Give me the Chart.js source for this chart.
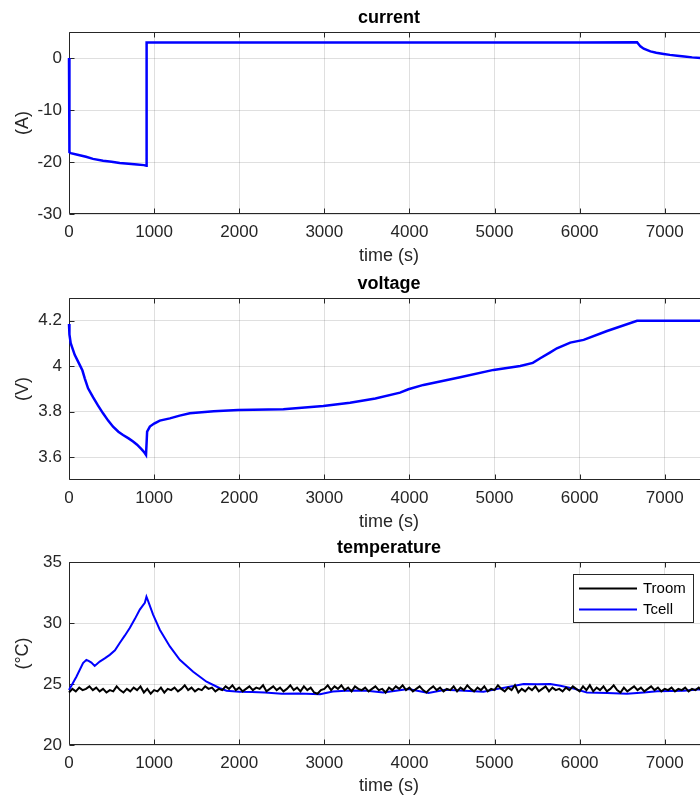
<!DOCTYPE html>
<html><head><meta charset="utf-8">
<script src="https://cdn.jsdelivr.net/npm/chart.js@4.4.0/dist/chart.umd.min.js"></script>
<style>
html,body{margin:0;padding:0;background:#fff;overflow:hidden;width:700px;height:796px}
#wrap{position:relative;width:700px;height:796px;overflow:hidden;background:#fff}
canvas{position:absolute;left:0}
</style></head><body>
<div id="wrap">
<canvas id="c1" width="709" height="265" style="top:0px"></canvas>
<canvas id="c2" width="709" height="265" style="top:266px"></canvas>
<canvas id="c3" width="709" height="266" style="top:530px"></canvas>
</div>
<script>
// ---- tick labels ----
const timeTicks = [0, 1000, 2000, 3000, 4000, 5000, 6000, 7000];
const currentTicks = [-30, -20, -10, 0];
const voltageTicks = [3.6, 3.8, 4, 4.2];
const tempTicks = [20, 25, 30, 35];

// ---- current (A) ----
const currentTime = [0, 5, 20, 100, 200, 282, 400, 500, 596, 700, 800, 880, 910, 912, 1000, 2000, 3000, 4000, 5000, 6000, 6675, 6714, 6753, 6832, 6900, 6988, 7060, 7146, 7230, 7322, 7420, 7520];
const currentA    = [0, -18.1, -18.3, -18.6, -19.0, -19.4, -19.75, -19.95, -20.2, -20.35, -20.5, -20.6, -20.7, 3.0, 3.0, 3.0, 3.0, 3.0, 3.0, 3.0, 3.05, 2.23, 1.79, 1.27, 1.0, 0.77, 0.6, 0.44, 0.3, 0.12, 0.02, 0.0];

// ---- voltage (V) ----
const voltageTime = [0, 5, 20, 67, 126, 158, 185, 224, 282, 340, 400, 460, 518, 580, 635, 700, 753, 800, 851, 880, 905, 912, 918, 950, 1000, 1067, 1185, 1300, 1420, 1700, 1988, 2518, 2988, 3302, 3600, 3890, 3988, 4165, 4596, 4988, 5302, 5450, 5537, 5650, 5733, 5890, 6047, 6322, 6675, 7000, 7420, 7520];
const voltageV    = [4.186, 4.14, 4.101, 4.05, 4.006, 3.981, 3.947, 3.903, 3.864, 3.828, 3.793, 3.761, 3.734, 3.712, 3.698, 3.683, 3.669, 3.655, 3.636, 3.624, 3.61, 3.61, 3.713, 3.735, 3.748, 3.761, 3.771, 3.783, 3.793, 3.802, 3.808, 3.811, 3.825, 3.84, 3.858, 3.884, 3.899, 3.918, 3.952, 3.984, 4.001, 4.015, 4.035, 4.06, 4.079, 4.104, 4.116, 4.155, 4.2, 4.2, 4.2, 4.196];

// ---- temperature (°C) ----
const tcellTime = [0, 8, 87, 165, 204, 230, 263, 302, 361, 420, 479, 540, 596, 655, 714, 773, 832, 891, 910, 930, 988, 1067, 1185, 1302, 1459, 1616, 1773, 1851, 2000, 2150, 2300, 2500, 2700, 2950, 3100, 3302, 3500, 3694, 3988, 4224, 4420, 4650, 4871, 5067, 5224, 5341, 5500, 5655, 5773, 5930, 6086, 6322, 6557, 6753, 6910, 7224, 7420, 7520];
const tcellC    = [24.5, 24.5, 25.6, 26.71, 26.98, 26.9, 26.76, 26.48, 26.84, 27.1, 27.39, 27.76, 28.36, 28.96, 29.59, 30.32, 31.1, 31.65, 32.15, 31.79, 30.69, 29.45, 28.08, 26.98, 26.01, 25.19, 24.65, 24.45, 24.36, 24.35, 24.3, 24.2, 24.22, 24.17, 24.38, 24.47, 24.45, 24.31, 24.59, 24.26, 24.53, 24.45, 24.37, 24.64, 24.83, 25.0, 24.98, 25.0, 24.86, 24.62, 24.31, 24.26, 24.2, 24.31, 24.4, 24.45, 24.56, 24.55];

const troomStep = 40; // s between room temperature samples
const troomC = [
 24.3, 24.6, 24.4, 24.7, 24.5, 24.6, 24.8, 24.5, 24.7, 24.4,
 24.6, 24.3, 24.5, 24.4, 24.8, 24.5, 24.3, 24.6, 24.4, 24.7,
 24.5, 24.8, 24.3, 24.6, 24.2, 24.5, 24.4, 24.7, 24.3, 24.6,
 24.5, 24.7, 24.4, 24.6, 24.9, 24.5, 24.7, 24.4, 24.6, 24.5,
 24.8, 24.6, 24.7, 24.4, 24.6, 24.5, 24.8, 24.6, 24.9, 24.5,
 24.7, 24.4, 24.6, 24.8, 24.5, 24.7, 24.6, 24.9, 24.4, 24.6,
 24.8, 24.5, 24.7, 24.4, 24.6, 24.9, 24.5, 24.7, 24.4, 24.8,
 24.5, 24.7, 24.3, 24.2, 24.5, 24.6, 24.9, 24.5, 24.8, 24.6,
 24.9, 24.5, 24.7, 24.4, 24.8, 24.6, 24.5, 24.7, 24.4, 24.6,
 24.8, 24.5, 24.6, 24.3, 24.7, 24.5, 24.8, 24.6, 24.9, 24.5,
 24.7, 24.4, 24.6, 24.8, 24.5, 24.3, 24.6, 24.8, 24.5, 24.7,
 24.4, 24.6, 24.5, 24.8, 24.4, 24.7, 24.5, 24.9, 24.6, 24.4,
 24.7, 24.5, 24.8, 24.4, 24.6, 24.5, 24.9, 24.6, 24.4, 24.7,
 24.5, 24.9, 24.3, 24.6, 24.4, 24.7, 24.5, 24.8, 24.4, 24.6,
 24.8, 24.4, 24.7, 24.5, 24.6, 24.4, 24.7, 24.5, 24.8, 24.6,
 24.4, 24.8, 24.5, 24.9, 24.4, 24.7, 24.5, 24.8, 24.4, 24.6,
 24.9, 24.5, 24.3, 24.7, 24.4, 24.6, 24.8, 24.5, 24.7, 24.4,
 24.6, 24.8, 24.5, 24.7, 24.4, 24.6, 24.5, 24.7, 24.4, 24.6,
 24.5, 24.7, 24.4, 24.6, 24.5, 24.7, 24.4, 24.6, 24.5];

const X_MAX = 7520;
const AX = '#262626';
const GRID = 'rgba(38,38,38,0.15)';
const FONT = '"Liberation Sans", Arial, Helvetica, sans-serif';

function pts(xs, ys) { return xs.map((x, i) => ({x: x, y: ys[i]})); }

function matlab(title, xlabel, ylabel, xticks, yticks, legend) {
  return {
    id: 'matlab',
    beforeDatasetsDraw(chart) {
      const {ctx, chartArea: a, scales} = chart;
      const L = Math.round(a.left) + 0.5, R = Math.round(a.right) - 0.5;
      const T = Math.round(a.top) + 0.5, B = Math.round(a.bottom) - 0.5;
      ctx.save();
      ctx.strokeStyle = AX; ctx.lineWidth = 1;
      ctx.beginPath();
      ctx.moveTo(L, T); ctx.lineTo(R, T); ctx.lineTo(R, B); ctx.lineTo(L, B); ctx.closePath();
      xticks.forEach(v => {
        const p = Math.round(scales.x.getPixelForValue(v)) + 0.5;
        ctx.moveTo(p, B); ctx.lineTo(p, B - 5);
        ctx.moveTo(p, T); ctx.lineTo(p, T + 5);
      });
      yticks.forEach(v => {
        const p = Math.round(scales.y.getPixelForValue(v)) + 0.5;
        ctx.moveTo(L, p); ctx.lineTo(L + 5, p);
        ctx.moveTo(R, p); ctx.lineTo(R - 5, p);
      });
      ctx.stroke();
      ctx.restore();
    },
    afterDraw(chart) {
      const {ctx, chartArea: a} = chart;
      const cx = (a.left + a.right) / 2, cy = (a.top + a.bottom) / 2;
      ctx.save();
      ctx.textAlign = 'center'; ctx.textBaseline = 'middle';
      ctx.fillStyle = '#000';
      ctx.font = 'bold 18px ' + FONT;
      ctx.fillText(title, cx, 18);
      ctx.fillStyle = AX;
      ctx.font = '18px ' + FONT;
      ctx.fillText(xlabel, cx, 256);
      ctx.translate(23, cy); ctx.rotate(-Math.PI / 2);
      ctx.fillText(ylabel, 0, 0);
      ctx.restore();
      if (legend) {
        const ds = chart.data.datasets;
        ctx.save();
        const lx = 573.5, ly = 44.5, lw = 120, lh = 48;
        ctx.fillStyle = '#fff';
        ctx.fillRect(lx, ly, lw, lh);
        ctx.strokeStyle = AX; ctx.lineWidth = 1;
        ctx.strokeRect(lx, ly, lw, lh);
        ds.forEach((d, i) => {
          const yy = ly + 14 + i * 21;
          ctx.strokeStyle = d.borderColor; ctx.lineWidth = 2;
          ctx.beginPath(); ctx.moveTo(579, yy); ctx.lineTo(637, yy); ctx.stroke();
          ctx.fillStyle = '#000';
          ctx.font = '15px ' + FONT;
          ctx.textAlign = 'left'; ctx.textBaseline = 'middle';
          ctx.fillText(d.label, 643, yy);
        });
        ctx.restore();
      }
    }
  };
}

function makeChart(id, datasets, ymin, ymax, yticks, title, ylabel, legend) {
  return new Chart(document.getElementById(id), {
    type: 'line',
    data: {datasets: datasets},
    options: {
      responsive: false, animation: false, devicePixelRatio: 1,
      layout: {padding: {top: 32, left: 0, right: 0, bottom: 0}},
      plugins: {legend: {display: false}, tooltip: {enabled: false}, title: {display: false}},
      elements: {point: {radius: 0}, line: {borderWidth: 2.5, tension: 0}},
      scales: {
        x: {
          type: 'linear', min: 0, max: X_MAX,
          afterBuildTicks: s => { s.ticks = timeTicks.map(v => ({value: v})); },
          afterFit: s => { s.height = 51; },
          border: {display: false},
          grid: {color: GRID, lineWidth: 1, drawTicks: false},
          ticks: {color: AX, font: {family: FONT, size: 17}, padding: 8, maxRotation: 0, autoSkip: false, callback: v => String(v)}
        },
        y: {
          type: 'linear', min: ymin, max: ymax,
          afterBuildTicks: s => { s.ticks = yticks.map(v => ({value: v})); },
          afterFit: s => { s.width = 69; },
          border: {display: false},
          grid: {color: GRID, lineWidth: 1, drawTicks: false},
          ticks: {color: AX, font: {family: FONT, size: 17}, padding: 7, autoSkip: false, callback: v => String(v)}
        }
      }
    },
    plugins: [matlab(title, 'time (s)', ylabel, timeTicks, yticks, legend)]
  });
}

makeChart('c1', [
  {label: 'current', data: pts(currentTime, currentA), borderColor: '#0000ff', clip: false}
], -30, 5, currentTicks, 'current', '(A)', false);

makeChart('c2', [
  {label: 'voltage', data: pts(voltageTime, voltageV), borderColor: '#0000ff', clip: false}
], 3.5, 4.3, voltageTicks, 'voltage', '(V)', false);

const troomTime = troomC.map((_, i) => i * troomStep);
makeChart('c3', [
  {label: 'Troom', data: pts(troomTime, troomC), borderColor: '#000000', borderWidth: 2, clip: false},
  {label: 'Tcell', data: pts(tcellTime, tcellC), borderColor: '#0000ff', borderWidth: 2, clip: false}
], 20, 35, tempTicks, 'temperature', '(°C)', true);
</script>
</body></html>
